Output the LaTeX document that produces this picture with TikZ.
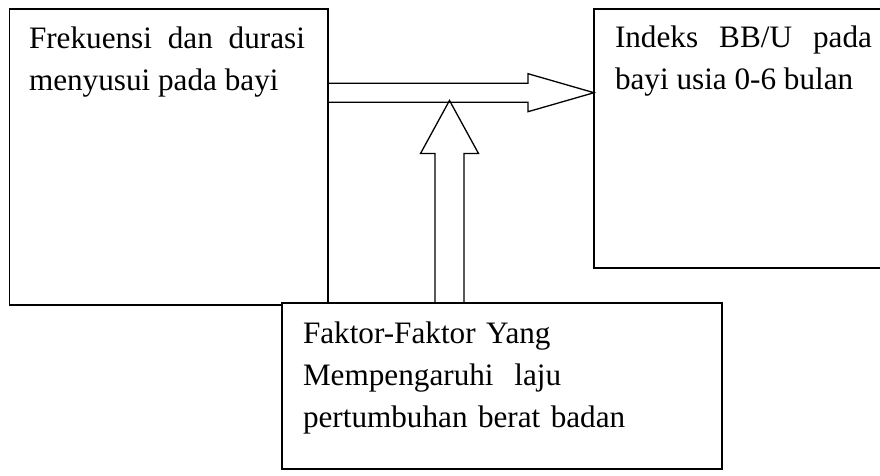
\documentclass[tikz,border=0pt]{standalone}
\usepackage{fontspec}
\setmainfont{Liberation Serif}
\usetikzlibrary{calc}
\begin{document}
\begin{tikzpicture}[x={(1pt,0)}, y={(0,-1pt)},
  box/.style={draw, line width=1.6pt, fill=white, inner sep=0pt, outer sep=0pt, anchor=north west},
  label/.style={anchor=base west, inner sep=0pt, outer sep=0pt, font=\fontsize{31.2}{42}\selectfont},
  blockarrow/.style={draw, line width=1.3pt, line join=miter}]
\useasboundingbox (0,0) rectangle (880,475);
\clip (0,0) rectangle (880,475);

% boxes
\node[box, minimum width=318.5pt, minimum height=296pt] (src) at (9.5,9) {};
\node[box, minimum width=300pt, minimum height=259pt] (dst) at (594,9) {};

% horizontal block arrow
\coordinate (hStart) at (src.east |- 0,92.7);
\coordinate (hTip) at (dst.west |- hStart);
\draw[blockarrow] ($(hStart)+(0,-9.5)$) -- ($(hTip)+(-66,-9.5)$) -- ($(hTip)+(-66,-19)$)
  -- (hTip) -- ($(hTip)+(-66,19)$) -- ($(hTip)+(-66,9.5)$) -- ($(hStart)+(0,9.5)$);

% bottom box
\node[box, line width=1.5pt, minimum width=440pt, minimum height=166pt] (fac) at (282,303) {};

% vertical block arrow
\coordinate (vBase) at (449.5,0 |- fac.north);
\coordinate (vTip) at (449.5,100.5);
\draw[blockarrow] ($(vBase)+(-14.5,0)$) -- ($(vTip)+(-14.5,53)$) -- ($(vTip)+(-29,53)$)
  -- (vTip) -- ($(vTip)+(29,53)$) -- ($(vTip)+(14.5,53)$) -- ($(vBase)+(14.5,0)$);

% texts
\node[label, text width=276pt, align=justify] (srcText) at (29,48)
  {Frekuensi dan durasi menyusui pada bayi};
\node[label, text width=257pt, align=justify] (dstText) at (615,47)
  {Indeks BB/U pada bayi usia 0-6 bulan};
\node[label, text width=400pt, align=left] (facText) at (303,343)
  {Faktor-Faktor Yang\\Mempengaruhi\ \ laju\\pertumbuhan berat badan};
\end{tikzpicture}
\end{document}
